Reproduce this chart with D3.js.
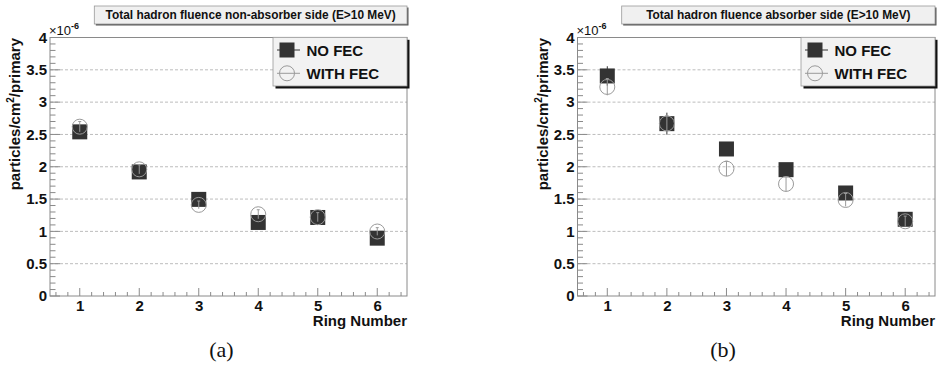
<!DOCTYPE html>
<html><head><meta charset="utf-8">
<script src="https://cdn.jsdelivr.net/npm/d3@7"></script>
<style>
html,body{margin:0;padding:0;background:#fff;}
svg{display:block;}
</style></head>
<body>
<svg id="chart" width="939" height="372" style="font-family:'Liberation Sans',Arial,Helvetica,sans-serif"></svg>
<script>
// ---- data ----
const rings = [1, 2, 3, 4, 5, 6];
const yTicks = [0, 0.5, 1, 1.5, 2, 2.5, 3, 3.5, 4];
const seriesNames = ["NO FEC", "WITH FEC"];
const panelTitles = ["Total hadron fluence non-absorber side (E>10 MeV)", "Total hadron fluence absorber side (E>10 MeV)"];
const captions = ["(a)", "(b)"];
// non-absorber side (a)
const nonAbsNoFec = [2.54, 1.92, 1.495, 1.138, 1.215, 0.895];
const nonAbsNoFecErr = [0.05, 0.05, 0.05, 0.05, 0.05, 0.05];
const nonAbsWithFec = [2.62, 1.96, 1.41, 1.265, 1.22, 0.998];
const nonAbsWithFecErr = [0.08, 0.07, 0.06, 0.07, 0.07, 0.06];
// absorber side (b)
const absNoFec = [3.405, 2.667, 2.275, 1.955, 1.594, 1.187];
const absNoFecErr = [0.15, 0.17, 0.08, 0.08, 0.08, 0.08];
const absWithFec = [3.235, 2.67, 1.97, 1.734, 1.486, 1.156];
const absWithFecErr = [0.13, 0.12, 0.115, 0.11, 0.1, 0.08];

const svg = d3.select("#chart");
const SQ = 15, CR = 7.5;
const dark = "#333333", grayMk = "#9a9a9a", frameCol = "#8a8a8a";
const SANS = "'Liberation Sans', Arial, Helvetica, sans-serif";

function drawPanel(cfg) {
  const g = svg.append("g");
  const x = d3.scaleLinear().domain([0.5, 6.5]).range([cfg.x0, cfg.x1]);
  const y = d3.scaleLinear().domain([0, 4]).range([296, 37.5]);

  // title box
  g.append("rect").attr("x", cfg.tx0 + 1.5).attr("y", 7.5).attr("width", cfg.x1 - cfg.tx0).attr("height", 18)
    .attr("fill", "#555");
  g.append("rect").attr("x", cfg.tx0).attr("y", 6).attr("width", cfg.x1 - cfg.tx0).attr("height", 18)
    .attr("fill", "#f0f0f0").attr("stroke", "#999").attr("stroke-width", 0.8);
  g.append("text").attr("x", (cfg.tx0 + cfg.x1) / 2).attr("y", 19.4).attr("text-anchor", "middle")
    .style("font-size", "11.9px").style("font-weight", "bold").attr("fill", "#111").text(cfg.title);

  // grid
  g.append("g").selectAll("line").data(yTicks.filter(v => v > 0 && v < 4)).join("line")
    .attr("x1", cfg.x0).attr("x2", cfg.x1).attr("y1", d => y(d)).attr("y2", d => y(d))
    .attr("stroke", "#bdbdbd").attr("stroke-width", 1).attr("stroke-dasharray", "3,2");

  // y ticks (inside)
  g.append("g").selectAll("line").data(d3.range(0, 41).map(i => i / 10)).join("line")
    .attr("x1", cfg.x0).attr("x2", (d, i) => cfg.x0 + (i % 5 === 0 ? 10 : 5.5))
    .attr("y1", d => y(d)).attr("y2", d => y(d)).attr("stroke", frameCol).attr("stroke-width", 1);
  const yLab = g.append("g").attr("transform", `translate(${cfg.x0},0)`)
    .call(d3.axisLeft(y).tickValues(yTicks).tickSize(0).tickPadding(3).tickFormat(d => d3.format("")(d)));
  yLab.select(".domain").remove();
  yLab.selectAll("text").style("font-size", "15px").style("font-weight", "bold").attr("fill", "#111")
    .style("font-family", SANS);

  // x ticks
  const xMinor = d3.range(0, 31).map(i => 0.6 + i * 0.2).filter(v => v < 6.5);
  g.append("g").selectAll("line").data(xMinor).join("line")
    .attr("x1", d => x(d)).attr("x2", d => x(d)).attr("y1", 296)
    .attr("y2", d => Math.abs(d - Math.round(d)) < 1e-6 ? 288 : 292)
    .attr("stroke", frameCol).attr("stroke-width", 1);
  const xLab = g.append("g").attr("transform", "translate(0,296)")
    .call(d3.axisBottom(x).tickValues(rings).tickSize(0).tickPadding(4).tickFormat(d3.format("d")));
  xLab.select(".domain").remove();
  xLab.selectAll("text").style("font-size", "15px").style("font-weight", "bold").attr("fill", "#111")
    .style("font-family", SANS);

  // frame
  g.append("rect").attr("x", cfg.x0).attr("y", 37.5).attr("width", cfg.x1 - cfg.x0).attr("height", 296 - 37.5)
    .attr("fill", "none").attr("stroke", frameCol).attr("stroke-width", 1);

  // axis titles
  g.append("text").attr("x", cfg.x1).attr("y", 326).attr("text-anchor", "end")
    .style("font-size", "15px").style("font-weight", "bold").attr("fill", "#111").text("Ring Number");
  const yt = g.append("text").attr("transform", `translate(${cfg.x0 - 30},38) rotate(-90)`)
    .attr("text-anchor", "end").style("font-size", "15px").style("font-weight", "bold").attr("fill", "#111");
  yt.append("tspan").text("particles/cm");
  yt.append("tspan").style("font-size", "10px").attr("dy", -6).text("2");
  yt.append("tspan").attr("dy", 6).text("/primary");
  // exponent
  const ex = g.append("text").attr("x", cfg.x0 - 1).attr("y", 35).style("font-size", "13px").attr("fill", "#111");
  ex.append("tspan").text("\u00d710");
  ex.append("tspan").style("font-size", "9px").style("font-weight", "bold").attr("dy", -6).text("-6");

  // NO FEC squares
  const sq = g.append("g");
  cfg.noFec.forEach((v, i) => {
    const cx = x(rings[i]), cy = y(v);
    sq.append("line").attr("x1", cx).attr("x2", cx).attr("y1", y(v + cfg.noFecErr[i])).attr("y2", y(v - cfg.noFecErr[i]))
      .attr("stroke", dark).attr("stroke-width", 1);
    sq.append("rect").attr("x", cx - SQ / 2).attr("y", cy - SQ / 2).attr("width", SQ).attr("height", SQ)
      .attr("fill", dark);
  });
  // WITH FEC circles
  const ci = g.append("g");
  cfg.withFec.forEach((v, i) => {
    const cx = x(rings[i]), cy = y(v);
    const e = cfg.withFecErr[i];
    ci.append("line").attr("x1", cx).attr("x2", cx).attr("y1", y(v + e)).attr("y2", y(v - e))
      .attr("stroke", grayMk).attr("stroke-width", 1);
    ci.append("line").attr("x1", cx - 1.5).attr("x2", cx + 1.5).attr("y1", y(v + e)).attr("y2", y(v + e))
      .attr("stroke", grayMk).attr("stroke-width", 1);
    ci.append("circle").attr("cx", cx).attr("cy", cy).attr("r", CR)
      .attr("fill", "none").attr("stroke", grayMk).attr("stroke-width", 1);
  });

  // legend
  const lx0 = cfg.x1 - 134, ly0 = 37.3, lw = 134, lh = 48.7;
  const lg = g.append("g");
  lg.append("rect").attr("x", lx0 + 2.5).attr("y", ly0 + 2.5).attr("width", lw).attr("height", lh).attr("fill", "#111");
  lg.append("rect").attr("x", lx0).attr("y", ly0).attr("width", lw).attr("height", lh)
    .attr("fill", "#f2f2f2").attr("stroke", "#9a9a9a").attr("stroke-width", 0.8);
  const r1 = ly0 + 12.7, r2 = ly0 + 36;
  lg.append("line").attr("x1", lx0 + 4).attr("x2", lx0 + 27).attr("y1", r1).attr("y2", r1).attr("stroke", dark);
  lg.append("rect").attr("x", lx0 + 14 - SQ / 2).attr("y", r1 - SQ / 2).attr("width", SQ).attr("height", SQ).attr("fill", dark);
  lg.append("line").attr("x1", lx0 + 4).attr("x2", lx0 + 27).attr("y1", r2).attr("y2", r2).attr("stroke", grayMk);
  lg.append("circle").attr("cx", lx0 + 14).attr("cy", r2).attr("r", CR).attr("fill", "none").attr("stroke", grayMk);
  lg.append("text").attr("x", lx0 + 33.5).attr("y", r1 + 5.5).style("font-size", "15px").style("font-weight", "bold")
    .attr("fill", "#111").text(seriesNames[0]);
  lg.append("text").attr("x", lx0 + 33.5).attr("y", r2 + 5.5).style("font-size", "15px").style("font-weight", "bold")
    .attr("fill", "#111").text(seriesNames[1]);

  // caption
  g.append("text").attr("x", cfg.capX).attr("y", 357).attr("text-anchor", "middle")
    .style("font-family", "'Liberation Serif', 'DejaVu Serif', serif").style("font-size", "22px").attr("fill", "#111")
    .text(cfg.caption);
}

drawPanel({x0: 50, x1: 407, tx0: 94.3, title: panelTitles[0], caption: captions[0], capX: 221.5,
  noFec: nonAbsNoFec, noFecErr: nonAbsNoFecErr, withFec: nonAbsWithFec, withFecErr: nonAbsWithFecErr});
drawPanel({x0: 577.5, x1: 935, tx0: 621.7, title: panelTitles[1], caption: captions[1], capX: 723,
  noFec: absNoFec, noFecErr: absNoFecErr, withFec: absWithFec, withFecErr: absWithFecErr});
</script>
</body></html>
